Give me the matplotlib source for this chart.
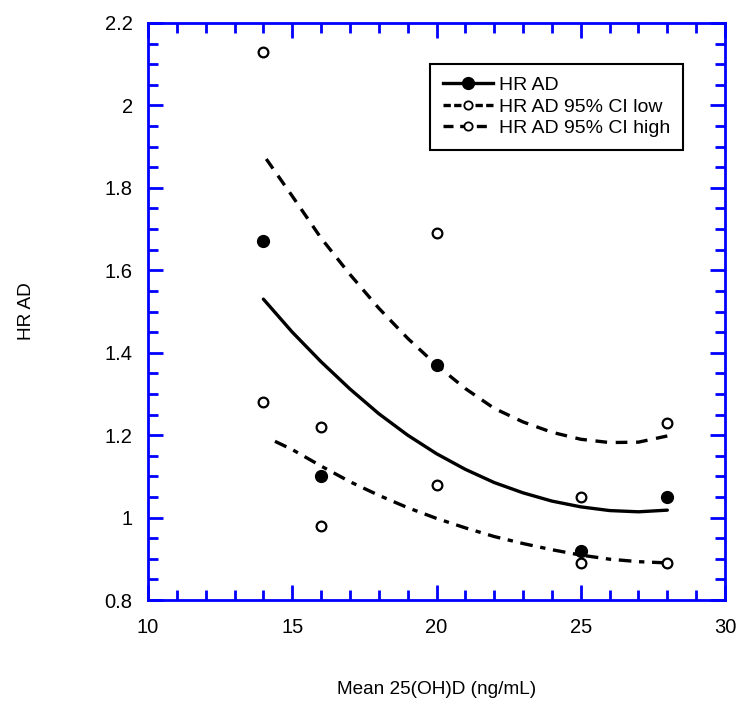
import matplotlib.pyplot as plt
from matplotlib.ticker import MultipleLocator, FuncFormatter

plt.rcParams['font.family'] = ['Liberation Sans', 'DejaVu Sans']

# observed points
x_pts = [14, 16, 20, 25, 28]
hr_ad = [1.67, 1.10, 1.37, 0.92, 1.05]
ci_low = [1.28, 0.98, 1.08, 0.89, 0.89]
ci_high = [2.13, 1.22, 1.69, 1.05, 1.23]

# fitted curves
fit_x = [14, 15, 16, 17, 18, 19, 20, 21, 22, 23, 24, 25, 26, 27, 28]
fit_hr = [1.53, 1.45, 1.378, 1.312, 1.252, 1.20, 1.155, 1.117, 1.085, 1.06,
          1.04, 1.026, 1.017, 1.014, 1.018]
fit_high_x = [14.1, 15, 16, 17, 18, 19, 20, 21, 22, 23, 24, 25, 26, 27, 28]
fit_high = [1.87, 1.78, 1.678, 1.59, 1.508, 1.435, 1.37, 1.313, 1.265, 1.232,
            1.207, 1.19, 1.182, 1.183, 1.198]
fit_low_x = [14.4, 15, 16, 17, 18, 19, 20, 21, 22, 23, 24, 25, 26, 27, 28]
fit_low = [1.185, 1.165, 1.125, 1.087, 1.054, 1.024, 0.998, 0.975, 0.954,
           0.937, 0.922, 0.909, 0.899, 0.893, 0.89]

blue = '#0000ff'

fig = plt.figure(figsize=(7.48, 7.12), dpi=100)
ax = fig.add_axes([148 / 748, 112 / 712, 577 / 748, 577 / 712])

lw = 2.4
ax.plot(fit_x, fit_hr, color='black', lw=lw, zorder=2, solid_capstyle='round')
ax.plot(fit_low_x, fit_low, color='black', lw=lw, dashes=(3.8, 2.3, 1.6, 2.3), zorder=2)
ax.plot(fit_high_x, fit_high, color='black', lw=lw, dashes=(3.5, 2.6), zorder=2)

ax.plot(x_pts, hr_ad, 'o', ms=8.5, color='black', zorder=3)
ax.plot(x_pts, ci_low, 'o', ms=7, mfc='white', mec='black', mew=1.6, zorder=3)
ax.plot(x_pts, ci_high, 'o', ms=7, mfc='white', mec='black', mew=1.6, zorder=3)

# legend handles (line + marker)
h1, = ax.plot([], [], color='black', lw=lw, marker='o', ms=8.5)
h2, = ax.plot([], [], color='black', lw=lw, dashes=(2.2, 1.0), marker='o', ms=6,
              mfc='white', mew=1.3)
h3, = ax.plot([], [], color='black', lw=lw, dashes=(3.0, 2.0), marker='o', ms=6,
              mfc='white', mew=1.3)
leg = ax.legend([h1, h2, h3], ['HR AD', 'HR AD 95% CI low', 'HR AD 95% CI high'],
                loc='upper right', bbox_to_anchor=(0.927, 0.929), borderaxespad=0,
                numpoints=1, handlelength=2.6, fontsize=14, fancybox=False,
                framealpha=1, edgecolor='black', labelspacing=0.2,
                borderpad=0.65, handletextpad=0.3)
leg.get_frame().set_linewidth(1.5)

ax.set_xlim(10, 30)
ax.set_ylim(0.8, 2.2)
ax.xaxis.set_major_locator(MultipleLocator(5))
ax.xaxis.set_minor_locator(MultipleLocator(1))
ax.yaxis.set_major_locator(MultipleLocator(0.2))
ax.yaxis.set_minor_locator(MultipleLocator(0.05))
fmt = FuncFormatter(lambda v, p: '{:g}'.format(round(v, 2)))
ax.yaxis.set_major_formatter(fmt)
ax.xaxis.set_major_formatter(fmt)

for s in ax.spines.values():
    s.set_color(blue)
    s.set_linewidth(2)
ax.tick_params(which='both', direction='in', color=blue, width=2,
               top=True, right=True, labelcolor='black', labelsize=14.5)
ax.tick_params(which='major', length=11)
ax.tick_params(which='minor', length=7)
ax.tick_params(axis='x', pad=13)
ax.tick_params(axis='y', pad=11)

ax.set_xlabel('Mean 25(OH)D (ng/mL)', fontsize=13.7)
ax.set_ylabel('HR AD', fontsize=13.7)
ax.xaxis.set_label_coords(0.5, -0.14)
ax.yaxis.set_label_coords(-0.195, 0.5)

fig.savefig('out.png', dpi=100)
